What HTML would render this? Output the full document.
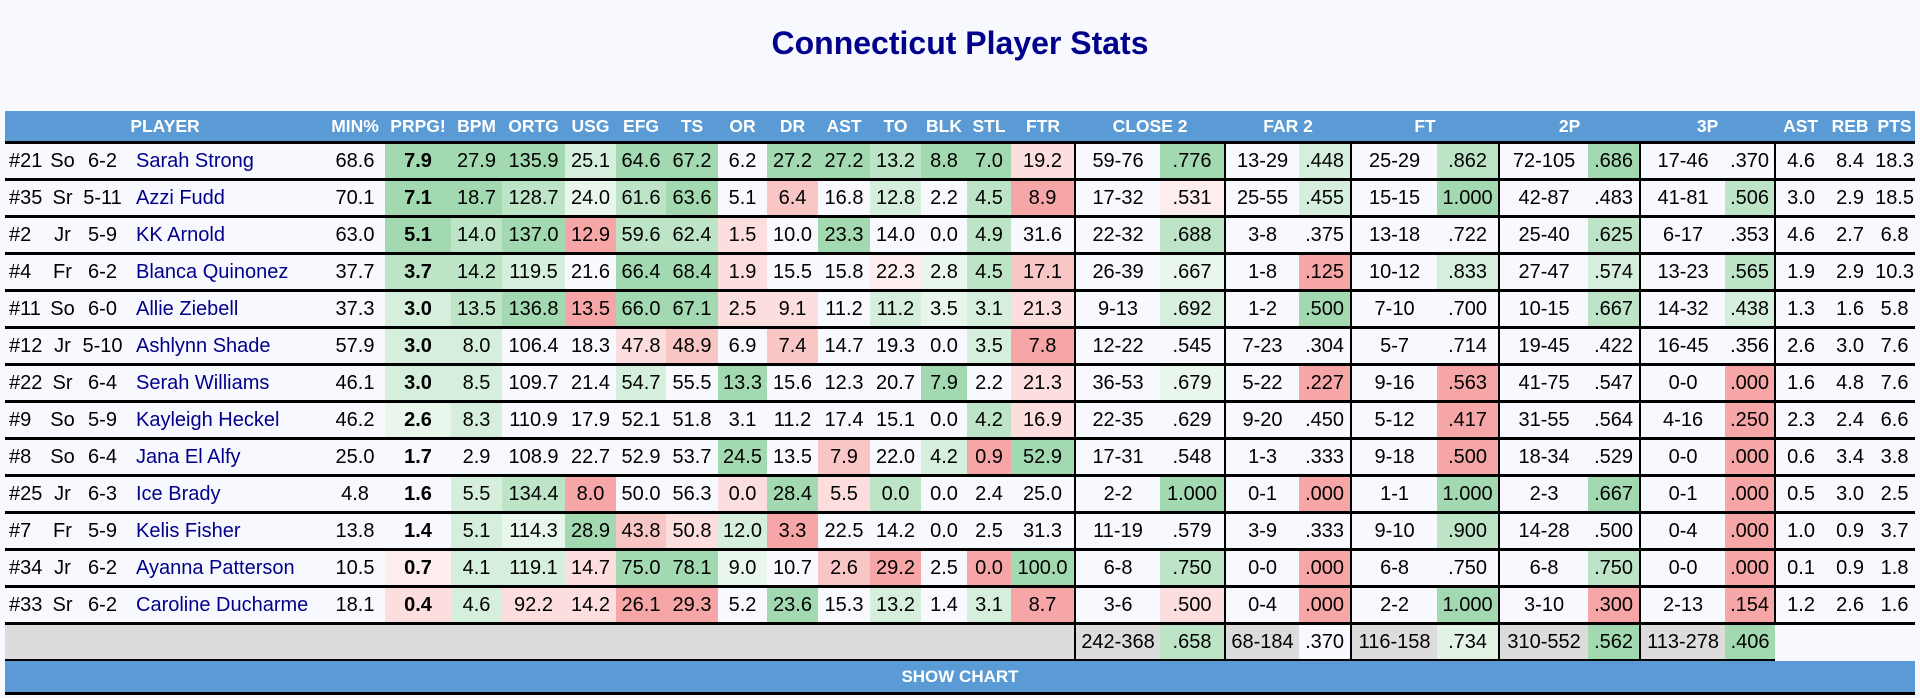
<!DOCTYPE html>
<html><head><meta charset="utf-8">
<style>
body{margin:0;background:#f8f9fe;width:1920px;height:698px;overflow:hidden;font-family:"Liberation Sans",Arial,sans-serif;}
h1{position:absolute;top:25px;left:0;width:1920px;margin:0;text-align:center;font-size:32px;font-weight:bold;color:#00008b;}
table{position:absolute;left:5px;top:111px;border-collapse:collapse;table-layout:fixed;width:1910px;}
td,th{padding:0;text-align:center;white-space:nowrap;overflow:hidden;}
th{background:#5b9bd5;color:#fff;font-size:17.5px;height:30px;border-bottom:3px solid #000;}
td{font-size:20px;height:34px;border-bottom:3px solid #000;color:#000;}
td.n{color:#00008b;text-align:left;padding-left:6px;}
td.l{text-align:left;padding-left:4px;}
td.b{font-weight:bold;}
.vb{border-left:2px solid #000;}
.g3{background:#a3d9b1}.g2{background:#bde4c7}.g1{background:#d6efdd}.g0{background:#e9f6ec}
.r3{background:#f6a6a6}.r2{background:#f9c6c6}.r1{background:#fcdede}.r0{background:#fdeded}
tr.tot td{background:#dcdcdc;}
tr.tot td.w{background:#f8f9fe;}
tr.tot td.g3{background:#a3d9b1}tr.tot td.g2{background:#bde4c7}tr.tot td.g0{background:#e2f3e6}
tr.tot td.e{background:#f8f9fe;border-bottom:none;}
.btn{position:absolute;left:5px;top:661px;width:1910px;height:31px;background:#5b9bd5;color:#fff;font-weight:bold;font-size:17px;line-height:31px;text-align:center;border-bottom:3px solid #000;}
</style></head><body>
<h1>Connecticut Player Stats</h1>
<table>
<colgroup>
<col style="width:45px"><col style="width:25px"><col style="width:55px"><col style="width:195px"><col style="width:60px">
<col style="width:66px"><col style="width:51px"><col style="width:63px"><col style="width:51px"><col style="width:50px"><col style="width:52px"><col style="width:49px"><col style="width:51px"><col style="width:52px"><col style="width:51px"><col style="width:46px"><col style="width:44px"><col style="width:64px">
<col style="width:85px"><col style="width:65px"><col style="width:74px"><col style="width:52px"><col style="width:86px"><col style="width:62px"><col style="width:89px"><col style="width:52px"><col style="width:85px"><col style="width:50px">
<col style="width:51px"><col style="width:48px"><col style="width:41px">
</colgroup>
<tr><th colspan="4">PLAYER</th><th>MIN%</th><th>PRPG!</th><th>BPM</th><th>ORTG</th><th>USG</th><th>EFG</th><th>TS</th><th>OR</th><th>DR</th><th>AST</th><th>TO</th><th>BLK</th><th>STL</th><th>FTR</th><th colspan="2">CLOSE 2</th><th colspan="2">FAR 2</th><th colspan="2">FT</th><th colspan="2">2P</th><th colspan="2">3P</th><th>AST</th><th>REB</th><th>PTS</th></tr>

<tr><td class="l">#21</td><td>So</td><td>6-2</td><td class="n">Sarah Strong</td><td>68.6</td><td class="b g3">7.9</td><td class="g3">27.9</td><td class="g3">135.9</td><td class="g1">25.1</td><td class="g3">64.6</td><td class="g3">67.2</td><td>6.2</td><td class="g3">27.2</td><td class="g3">27.2</td><td class="g2">13.2</td><td class="g3">8.8</td><td class="g3">7.0</td><td class="r1">19.2</td><td class="vb">59-76</td><td class="g3">.776</td><td class="vb">13-29</td><td class="g1">.448</td><td class="vb">25-29</td><td class="g2">.862</td><td class="vb">72-105</td><td class="g3">.686</td><td class="vb">17-46</td><td>.370</td><td class="vb">4.6</td><td>8.4</td><td>18.3</td></tr>

<tr><td class="l">#35</td><td>Sr</td><td>5-11</td><td class="n">Azzi Fudd</td><td>70.1</td><td class="b g3">7.1</td><td class="g3">18.7</td><td class="g2">128.7</td><td class="g0">24.0</td><td class="g2">61.6</td><td class="g3">63.6</td><td>5.1</td><td class="r2">6.4</td><td>16.8</td><td class="g1">12.8</td><td>2.2</td><td class="g2">4.5</td><td class="r3">8.9</td><td class="vb">17-32</td><td class="r0">.531</td><td class="vb">25-55</td><td class="g1">.455</td><td class="vb">15-15</td><td class="g3">1.000</td><td class="vb">42-87</td><td>.483</td><td class="vb">41-81</td><td class="g2">.506</td><td class="vb">3.0</td><td>2.9</td><td>18.5</td></tr>

<tr><td class="l">#2</td><td>Jr</td><td>5-9</td><td class="n">KK Arnold</td><td>63.0</td><td class="b g3">5.1</td><td class="g2">14.0</td><td class="g3">137.0</td><td class="r3">12.9</td><td class="g2">59.6</td><td class="g2">62.4</td><td class="r1">1.5</td><td>10.0</td><td class="g3">23.3</td><td>14.0</td><td>0.0</td><td class="g2">4.9</td><td>31.6</td><td class="vb">22-32</td><td class="g2">.688</td><td class="vb">3-8</td><td>.375</td><td class="vb">13-18</td><td>.722</td><td class="vb">25-40</td><td class="g2">.625</td><td class="vb">6-17</td><td>.353</td><td class="vb">4.6</td><td>2.7</td><td>6.8</td></tr>

<tr><td class="l">#4</td><td>Fr</td><td>6-2</td><td class="n">Blanca Quinonez</td><td>37.7</td><td class="b g2">3.7</td><td class="g2">14.2</td><td class="g1">119.5</td><td>21.6</td><td class="g3">66.4</td><td class="g3">68.4</td><td class="r1">1.9</td><td>15.5</td><td>15.8</td><td class="r0">22.3</td><td class="g0">2.8</td><td class="g2">4.5</td><td class="r2">17.1</td><td class="vb">26-39</td><td class="g0">.667</td><td class="vb">1-8</td><td class="r3">.125</td><td class="vb">10-12</td><td class="g1">.833</td><td class="vb">27-47</td><td class="g1">.574</td><td class="vb">13-23</td><td class="g2">.565</td><td class="vb">1.9</td><td>2.9</td><td>10.3</td></tr>

<tr><td class="l">#11</td><td>So</td><td>6-0</td><td class="n">Allie Ziebell</td><td>37.3</td><td class="b g1">3.0</td><td class="g2">13.5</td><td class="g3">136.8</td><td class="r3">13.5</td><td class="g3">66.0</td><td class="g3">67.1</td><td class="r1">2.5</td><td class="r1">9.1</td><td>11.2</td><td class="g1">11.2</td><td class="g0">3.5</td><td class="g1">3.1</td><td class="r1">21.3</td><td class="vb">9-13</td><td class="g1">.692</td><td class="vb">1-2</td><td class="g3">.500</td><td class="vb">7-10</td><td>.700</td><td class="vb">10-15</td><td class="g2">.667</td><td class="vb">14-32</td><td class="g1">.438</td><td class="vb">1.3</td><td>1.6</td><td>5.8</td></tr>

<tr><td class="l">#12</td><td>Jr</td><td>5-10</td><td class="n">Ashlynn Shade</td><td>57.9</td><td class="b g1">3.0</td><td class="g1">8.0</td><td>106.4</td><td>18.3</td><td class="r1">47.8</td><td class="r2">48.9</td><td>6.9</td><td class="r2">7.4</td><td>14.7</td><td>19.3</td><td>0.0</td><td class="g1">3.5</td><td class="r3">7.8</td><td class="vb">12-22</td><td>.545</td><td class="vb">7-23</td><td>.304</td><td class="vb">5-7</td><td>.714</td><td class="vb">19-45</td><td>.422</td><td class="vb">16-45</td><td>.356</td><td class="vb">2.6</td><td>3.0</td><td>7.6</td></tr>

<tr><td class="l">#22</td><td>Sr</td><td>6-4</td><td class="n">Serah Williams</td><td>46.1</td><td class="b g1">3.0</td><td class="g1">8.5</td><td>109.7</td><td>21.4</td><td class="g1">54.7</td><td>55.5</td><td class="g3">13.3</td><td>15.6</td><td>12.3</td><td>20.7</td><td class="g3">7.9</td><td>2.2</td><td class="r1">21.3</td><td class="vb">36-53</td><td class="g0">.679</td><td class="vb">5-22</td><td class="r3">.227</td><td class="vb">9-16</td><td class="r3">.563</td><td class="vb">41-75</td><td>.547</td><td class="vb">0-0</td><td class="r3">.000</td><td class="vb">1.6</td><td>4.8</td><td>7.6</td></tr>

<tr><td class="l">#9</td><td>So</td><td>5-9</td><td class="n">Kayleigh Heckel</td><td>46.2</td><td class="b g0">2.6</td><td class="g1">8.3</td><td>110.9</td><td>17.9</td><td>52.1</td><td>51.8</td><td>3.1</td><td>11.2</td><td>17.4</td><td>15.1</td><td>0.0</td><td class="g2">4.2</td><td class="r1">16.9</td><td class="vb">22-35</td><td>.629</td><td class="vb">9-20</td><td>.450</td><td class="vb">5-12</td><td class="r3">.417</td><td class="vb">31-55</td><td>.564</td><td class="vb">4-16</td><td class="r3">.250</td><td class="vb">2.3</td><td>2.4</td><td>6.6</td></tr>

<tr><td class="l">#8</td><td>So</td><td>6-4</td><td class="n">Jana El Alfy</td><td>25.0</td><td class="b">1.7</td><td>2.9</td><td>108.9</td><td>22.7</td><td>52.9</td><td>53.7</td><td class="g3">24.5</td><td>13.5</td><td class="r2">7.9</td><td>22.0</td><td class="g1">4.2</td><td class="r3">0.9</td><td class="g3">52.9</td><td class="vb">17-31</td><td>.548</td><td class="vb">1-3</td><td>.333</td><td class="vb">9-18</td><td class="r3">.500</td><td class="vb">18-34</td><td>.529</td><td class="vb">0-0</td><td class="r3">.000</td><td class="vb">0.6</td><td>3.4</td><td>3.8</td></tr>

<tr><td class="l">#25</td><td>Jr</td><td>6-3</td><td class="n">Ice Brady</td><td>4.8</td><td class="b">1.6</td><td class="g1">5.5</td><td class="g2">134.4</td><td class="r3">8.0</td><td>50.0</td><td>56.3</td><td class="r1">0.0</td><td class="g3">28.4</td><td class="r1">5.5</td><td class="g2">0.0</td><td>0.0</td><td>2.4</td><td>25.0</td><td class="vb">2-2</td><td class="g3">1.000</td><td class="vb">0-1</td><td class="r3">.000</td><td class="vb">1-1</td><td class="g3">1.000</td><td class="vb">2-3</td><td class="g3">.667</td><td class="vb">0-1</td><td class="r3">.000</td><td class="vb">0.5</td><td>3.0</td><td>2.5</td></tr>

<tr><td class="l">#7</td><td>Fr</td><td>5-9</td><td class="n">Kelis Fisher</td><td>13.8</td><td class="b">1.4</td><td class="g1">5.1</td><td class="g0">114.3</td><td class="g3">28.9</td><td class="r2">43.8</td><td class="r1">50.8</td><td class="g1">12.0</td><td class="r3">3.3</td><td>22.5</td><td>14.2</td><td>0.0</td><td>2.5</td><td>31.3</td><td class="vb">11-19</td><td>.579</td><td class="vb">3-9</td><td>.333</td><td class="vb">9-10</td><td class="g2">.900</td><td class="vb">14-28</td><td>.500</td><td class="vb">0-4</td><td class="r3">.000</td><td class="vb">1.0</td><td>0.9</td><td>3.7</td></tr>

<tr><td class="l">#34</td><td>Jr</td><td>6-2</td><td class="n">Ayanna Patterson</td><td>10.5</td><td class="b r0">0.7</td><td class="g1">4.1</td><td class="g1">119.1</td><td class="r1">14.7</td><td class="g3">75.0</td><td class="g3">78.1</td><td class="g0">9.0</td><td>10.7</td><td class="r2">2.6</td><td class="r3">29.2</td><td>2.5</td><td class="r3">0.0</td><td class="g3">100.0</td><td class="vb">6-8</td><td class="g2">.750</td><td class="vb">0-0</td><td class="r3">.000</td><td class="vb">6-8</td><td>.750</td><td class="vb">6-8</td><td class="g2">.750</td><td class="vb">0-0</td><td class="r3">.000</td><td class="vb">0.1</td><td>0.9</td><td>1.8</td></tr>

<tr><td class="l">#33</td><td>Sr</td><td>6-2</td><td class="n">Caroline Ducharme</td><td>18.1</td><td class="b r1">0.4</td><td class="g1">4.6</td><td class="r1">92.2</td><td class="r1">14.2</td><td class="r3">26.1</td><td class="r3">29.3</td><td>5.2</td><td class="g3">23.6</td><td>15.3</td><td class="g1">13.2</td><td>1.4</td><td class="g1">3.1</td><td class="r3">8.7</td><td class="vb">3-6</td><td class="r1">.500</td><td class="vb">0-4</td><td class="r3">.000</td><td class="vb">2-2</td><td class="g3">1.000</td><td class="vb">3-10</td><td class="r3">.300</td><td class="vb">2-13</td><td class="r3">.154</td><td class="vb">1.2</td><td>2.6</td><td>1.6</td></tr>

<tr class="tot"><td colspan="18"></td><td class="vb">242-368</td><td class="g2">.658</td><td class="vb">68-184</td><td class="w">.370</td><td class="vb">116-158</td><td class="g0">.734</td><td class="vb">310-552</td><td class="g3">.562</td><td class="vb">113-278</td><td class="g3">.406</td><td class="e" colspan="3"></td></tr>
</table>
<div class="btn">SHOW CHART</div>
</body></html>
